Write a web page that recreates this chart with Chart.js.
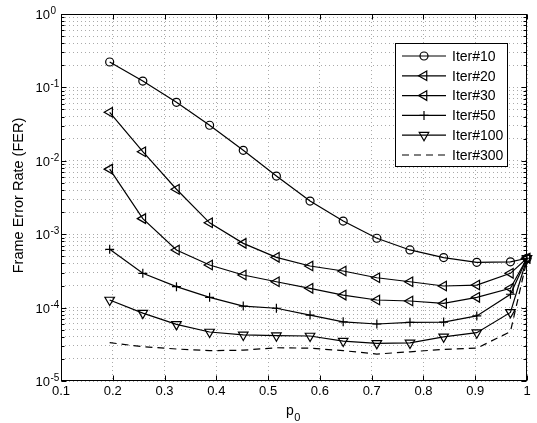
<!DOCTYPE html>
<html>
<head>
<meta charset="utf-8">
<script src="https://cdn.jsdelivr.net/npm/chart.js@4.4.0/dist/chart.umd.min.js"></script>
<style>
  html, body { margin: 0; padding: 0; background: #fff; }
  #wrap { width: 537px; height: 423px; position: relative; }
</style>
</head>
<body>
<div id="wrap"><canvas id="chart"></canvas></div>
<script>
// p0 values (x) and FER per iteration count
const p0 = [0.194, 0.258, 0.323, 0.387, 0.452, 0.516, 0.581, 0.645, 0.710, 0.774, 0.839, 0.903, 0.968, 1.0];
const iter10  = [0.222, 0.122, 0.0626, 0.0305, 0.0139, 0.0062, 0.00283, 0.00151, 0.00088, 0.00061, 0.00048, 0.000414, 0.00042, 0.00047];
const iter20  = [0.0458, 0.0133, 0.0041, 0.00143, 0.00075, 0.000484, 0.000369, 0.000315, 0.000255, 0.000225, 0.000197, 0.000203, 0.000293, 0.00047];
const iter30  = [0.0077, 0.00163, 0.00061, 0.00038, 0.000278, 0.000225, 0.000183, 0.000148, 0.000127, 0.000123, 0.000114, 0.000138, 0.000183, 0.00047];
const iter50  = [0.000622, 0.000293, 0.000193, 0.000138, 0.000105, 0.000098, 0.000079, 0.000064, 0.0000598, 0.000063, 0.0000635, 0.000077, 0.000152, 0.00047];
const iter100 = [0.000127, 0.000084, 0.000059, 0.0000465, 0.0000424, 0.0000414, 0.000041, 0.000035, 0.0000326, 0.000033, 0.00004, 0.0000455, 0.000086, 0.00047];
const iter300 = [0.0000333, 0.0000293, 0.0000273, 0.0000259, 0.0000263, 0.0000284, 0.000028, 0.0000259, 0.0000233, 0.000025, 0.000027, 0.000028, 0.000047, 0.00045];
const seriesNames = ['Iter#10', 'Iter#20', 'Iter#30', 'Iter#50', 'Iter#100', 'Iter#300'];

// axis ticks
const xTicks = [0.1, 0.2, 0.3, 0.4, 0.5, 0.6, 0.7, 0.8, 0.9, 1];
const xTickLabels = ['0.1', '0.2', '0.3', '0.4', '0.5', '0.6', '0.7', '0.8', '0.9', '1'];
const yDecades = [-5, -4, -3, -2, -1, 0];

const FONT = '"Liberation Sans", Arial, Helvetica, sans-serif';

// minor + major log ticks for the y grid
const yTickValues = [];
yDecades.forEach(function (d) {
    yTickValues.push({ value: Math.pow(10, d), major: true });
    if (d < 0) {
        for (let m = 2; m <= 9; m++) {
            yTickValues.push({ value: m * Math.pow(10, d), major: false });
        }
    }
});

const styles = [
    { pointStyle: 'circle',   radius: 4,   rotation: 0 },
    { pointStyle: 'triangle', radius: 5.5, rotation: -90 },
    { pointStyle: 'triangle', radius: 5.5, rotation: -90 },
    { pointStyle: 'cross',    radius: 4.5, rotation: 0 },
    { pointStyle: 'triangle', radius: 5.5, rotation: 180 },
    { pointStyle: false,      radius: 0,   rotation: 0, dash: [7, 5] }
];
const seriesValues = [iter10, iter20, iter30, iter50, iter100, iter300];

const datasets = seriesValues.map(function (vals, i) {
    const s = styles[i];
    return {
        label: seriesNames[i],
        data: vals.map(function (v, k) { return { x: p0[k], y: v }; }),
        borderColor: '#000',
        borderWidth: 1.2,
        borderDash: s.dash || [],
        pointStyle: s.pointStyle,
        pointRadius: s.radius,
        pointRotation: s.rotation,
        pointBorderColor: '#000',
        pointBorderWidth: 1.2,
        pointBackgroundColor: 'rgba(0,0,0,0)',
        tension: 0,
        fill: false,
        clip: false
    };
});

function drawMarker(ctx, s, x, y) {
    if (!s.pointStyle) return;
    if (Chart.helpers && Chart.helpers.drawPoint) {
        ctx.save();
        ctx.strokeStyle = '#000';
        ctx.fillStyle = 'rgba(0,0,0,0)';
        ctx.lineWidth = 1.2;
        ctx.setLineDash([]);
        Chart.helpers.drawPoint(ctx, { pointStyle: s.pointStyle, radius: s.radius, rotation: s.rotation, borderWidth: 1.2 }, x, y);
        ctx.restore();
    }
}

const framePlugin = {
    id: 'matlabFrame',
    beforeDatasetsDraw: function (chart) {
        // solid box + inward ticks, under the data like MATLAB
        const ctx = chart.ctx;
        const a = chart.chartArea;
        const xs = chart.scales.x;
        const ys = chart.scales.y;
        const L = Math.round(a.left) + 0.5, R = Math.round(a.right) - 0.5;
        const T = Math.round(a.top) + 0.5, B = Math.round(a.bottom) - 0.5;

        ctx.save();
        ctx.strokeStyle = '#000';
        ctx.lineWidth = 1;
        ctx.setLineDash([]);
        ctx.strokeRect(L, T, R - L, B - T);
        ctx.beginPath();
        xTicks.forEach(function (v) {
            const px = Math.round(xs.getPixelForValue(v)) + 0.5;
            ctx.moveTo(px, B); ctx.lineTo(px, B - 5);
            ctx.moveTo(px, T); ctx.lineTo(px, T + 5);
        });
        yTickValues.forEach(function (t) {
            const py = Math.round(ys.getPixelForValue(t.value)) + 0.5;
            const len = t.major ? 5 : 3;
            ctx.moveTo(L, py); ctx.lineTo(L + len, py);
            ctx.moveTo(R, py); ctx.lineTo(R - len, py);
        });
        ctx.stroke();
        ctx.restore();
    },
    afterDraw: function (chart) {
        const ctx = chart.ctx;
        const a = chart.chartArea;
        const xs = chart.scales.x;
        const ys = chart.scales.y;

        ctx.save();
        // x tick labels
        ctx.fillStyle = '#000';
        ctx.font = '13px ' + FONT;
        ctx.textAlign = 'center';
        ctx.textBaseline = 'alphabetic';
        xTicks.forEach(function (v, i) {
            ctx.fillText(xTickLabels[i], xs.getPixelForValue(v), 395);
        });

        // y tick labels 10^d
        yDecades.forEach(function (d) {
            const py = ys.getPixelForValue(Math.pow(10, d));
            ctx.font = '13px ' + FONT;
            ctx.textAlign = 'right';
            ctx.fillText('10', 50, py + 5);
            ctx.font = '10px ' + FONT;
            ctx.textAlign = 'left';
            ctx.fillText(d === 0 ? '0' : '-' + Math.abs(d), 50.5, py);
        });

        // x axis title p_0
        ctx.textAlign = 'left';
        ctx.font = '14px ' + FONT;
        const wp = ctx.measureText('p').width;
        ctx.font = '11px ' + FONT;
        const w0 = ctx.measureText('0').width;
        const cx = (a.left + a.right) / 2 - 1;
        const x0 = cx - (wp + w0) / 2;
        ctx.font = '14px ' + FONT;
        ctx.fillText('p', x0, 415);
        ctx.font = '11px ' + FONT;
        ctx.fillText('0', x0 + wp + 0.5, 421);

        // y axis title
        ctx.save();
        ctx.translate(19, (a.top + a.bottom) / 2 - 2);
        ctx.rotate(-Math.PI / 2);
        ctx.font = '14.5px ' + FONT;
        ctx.textAlign = 'center';
        ctx.textBaseline = 'middle';
        ctx.fillText('Frame Error Rate (FER)', 0, 0);
        ctx.restore();

        // legend
        const bx = 395.5, by = 43.5, bw = 112, bh = 123;
        ctx.fillStyle = '#fff';
        ctx.fillRect(bx, by, bw, bh);
        ctx.strokeStyle = '#000';
        ctx.lineWidth = 1;
        ctx.strokeRect(bx, by, bw, bh);
        seriesNames.forEach(function (name, i) {
            const ry = 56 + i * 19.8;
            const s = styles[i];
            ctx.save();
            ctx.strokeStyle = '#000';
            ctx.lineWidth = 1.2;
            ctx.setLineDash(s.dash || []);
            ctx.beginPath();
            ctx.moveTo(402, ry);
            ctx.lineTo(446, ry);
            ctx.stroke();
            ctx.restore();
            drawMarker(ctx, s, 424, ry);
            ctx.fillStyle = '#000';
            ctx.font = '14px ' + FONT;
            ctx.textAlign = 'left';
            ctx.textBaseline = 'middle';
            ctx.fillText(name, 452, ry + 1);
        });
        ctx.restore();
    }
};

new Chart(document.getElementById('chart'), {
    type: 'line',
    data: { datasets: datasets },
    options: {
        responsive: true,
        maintainAspectRatio: false,
        animation: false,
        devicePixelRatio: 1,
        layout: { padding: { left: 61, right: 10, top: 14, bottom: 42 } },
        plugins: { legend: { display: false }, tooltip: { enabled: false } },
        scales: {
            x: {
                type: 'linear',
                min: 0.1,
                max: 1,
                ticks: { display: false, stepSize: 0.1 },
                grid: { color: '#aaa', lineWidth: 1, drawTicks: false },
                border: { display: false, dash: [1, 3] }
            },
            y: {
                type: 'logarithmic',
                min: 1e-5,
                max: 1,
                afterBuildTicks: function (scale) {
                    scale.ticks = yTickValues.map(function (t) { return { value: t.value, major: t.major }; });
                },
                ticks: { display: false },
                grid: { color: '#aaa', lineWidth: 1, drawTicks: false },
                border: { display: false, dash: [1, 3] }
            }
        }
    },
    plugins: [framePlugin]
});
</script>
</body>
</html>
